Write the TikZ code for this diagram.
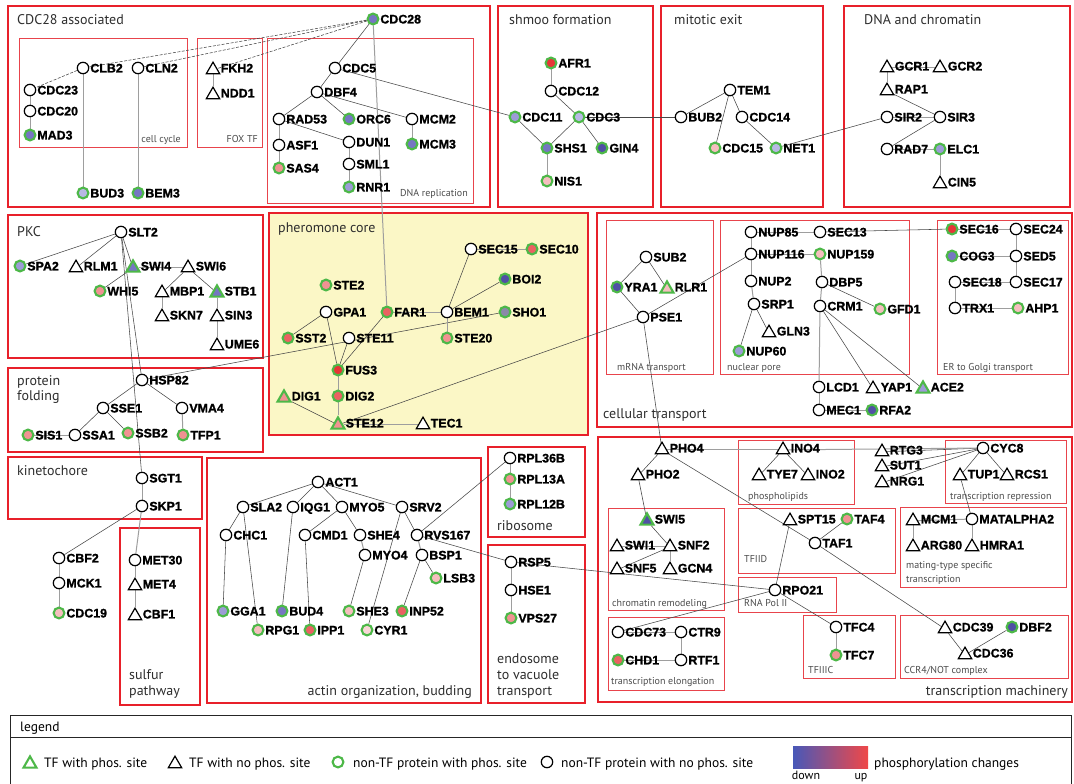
\documentclass[tikz,border=0pt]{standalone}
\usepackage{fontspec}
\setmainfont{PT Sans}
\newfontfamily\labfont{Liberation Sans}[FakeBold=1.2]
\newfontfamily\ttlfont{PT Sans}
\usetikzlibrary{shapes.geometric}
\pgfdeclarelayer{boxes}
\pgfdeclarelayer{links}
\pgfsetlayers{boxes,links,main}

% phosphorylation change colours (blue = down, red = up)
\definecolor{ringg}{HTML}{4DB848}
\definecolor{boxred}{HTML}{E8202A}
\definecolor{subred}{HTML}{E8444C}
\definecolor{phero}{HTML}{FBF7C6}
\definecolor{pa}{HTML}{5050A4}
\definecolor{pb}{HTML}{7676C2}
\definecolor{pc}{HTML}{9C9CD6}
\definecolor{pd}{HTML}{B8B8E4}
\definecolor{gp}{HTML}{8A8AA8}
\definecolor{ra}{HTML}{E63636}
\definecolor{rb}{HTML}{EA6262}
\definecolor{rc}{HTML}{F09292}
\definecolor{rd}{HTML}{F5BEBE}
\definecolor{re}{HTML}{F9D6D6}
\definecolor{ttlgray}{HTML}{2E2E2E}
\definecolor{subgray}{HTML}{4C4C4C}

% circle protein / triangle transcription factor, with its bold name
\newcommand\protc[4]{\node[#4] (#1) at (#2,#3) {};\path (#2,#3) ++(7.2,0) node[plab] (#1-t) {#1};}
\newcommand\prott[4]{\node[#4] (#1) at (#2,#3) {};\path (#2,#3) ++(7.6,0) node[plab] (#1-t) {#1};}

\tikzset{
  pn/.style={circle,draw=black,line width=1.2pt,fill=white,minimum size=11.4pt,inner sep=0pt},
  pp/.style={circle,draw=ringg,line width=2.1pt,fill=#1,minimum size=10.8pt,inner sep=0pt},
  tn/.style={regular polygon,regular polygon sides=3,draw=black,line width=1.2pt,fill=white,
             minimum size=15.5pt,inner sep=0pt,yshift=-1.9pt},
  tp/.style={regular polygon,regular polygon sides=3,draw=ringg,line width=2.1pt,fill=#1,
             minimum size=15pt,inner sep=0pt,yshift=-1.9pt},
  plab/.style={anchor=west,inner sep=0pt,text height=8.9pt,text depth=0pt,
               font=\labfont\bfseries\fontsize{12.4}{12.4}\selectfont},
  ed/.style={draw=black!72,line width=0.55pt},
  eg/.style={draw=black!38,line width=1pt},
  edash/.style={ed,dash pattern=on 3pt off 1.5pt},
  gbox/.style={draw=boxred,line width=2.6pt},
  sbox/.style={draw=subred,line width=1pt},
  ttl/.style={inner sep=0pt,text=ttlgray,font=\ttlfont\fontsize{14}{15}\selectfont},
  sub/.style={inner sep=0pt,text=subgray,font=\ttlfont\fontsize{10}{11}\selectfont},
  legt/.style={inner sep=0pt,text=black,anchor=base west,font=\ttlfont\fontsize{13.5}{14}\selectfont},
}

\begin{document}
\begin{tikzpicture}[x=1pt,y=-1pt]
\useasboundingbox (0,0) rectangle (1074,784);

\begin{pgfonlayer}{boxes}
\fill[white] (0,0) rectangle (1074,784);
% functional groups
\draw[gbox] (8,6) rectangle (490,207);
\draw[gbox] (498,6) rectangle (653,207);
\draw[gbox] (661,6) rectangle (823,207);
\draw[gbox] (844,6) rectangle (1070,207);
\draw[gbox] (8,215) rectangle (263,358);
\draw[gbox] (8,368) rectangle (263,452);
\draw[gbox,fill=phero] (269,213) rectangle (588,435);
\draw[gbox] (597,213) rectangle (1072,427);
\draw[gbox] (8,457) rectangle (202,519);
\draw[gbox] (120,528) rectangle (200,705);
\draw[gbox] (207,458) rectangle (481,703);
\draw[gbox] (488,447) rectangle (585,537);
\draw[gbox] (488,545) rectangle (585,703);
\draw[gbox] (598,437) rectangle (1072,702);
% sub-groups
\draw[sbox] (19,39) rectangle (187,147);
\draw[sbox] (197,39) rectangle (262,147);
\draw[sbox] (267,39) rectangle (473,203);
\draw[sbox] (606,220) rectangle (713,374);
\draw[sbox] (720,220) rectangle (909,374);
\draw[sbox] (937,220) rectangle (1068,374);
\draw[sbox] (738,440) rectangle (854,504);
\draw[sbox] (945,440) rectangle (1066,503);
\draw[sbox] (608,508) rectangle (724,610);
\draw[sbox] (738,508) rectangle (895,573);
\draw[sbox] (900,507) rectangle (1066,587);
\draw[sbox] (738,577) rectangle (836,612);
\draw[sbox] (608,617) rectangle (724,690);
\draw[sbox] (803,615) rectangle (895,678);
\draw[sbox] (900,615) rectangle (1068,678);
% legend frame
\draw[black!85,line width=1pt] (10,715) rectangle (1071,800);
\draw[black!85,line width=1pt] (10,737) -- (1071,737);
\end{pgfonlayer}

% group titles
\node[ttl,anchor=base west] (g1) at (17,25) {CDC28 associated};
\node[ttl,anchor=base west] (g2) at (509,25) {shmoo formation};
\node[ttl,anchor=base west] (g3) at (674,25) {mitotic exit};
\node[ttl,anchor=base west] (g4) at (864,25) {DNA and chromatin};
\node[ttl,anchor=base west] (g5) at (17,236) {PKC};
\node[ttl,anchor=base west] (g6) at (17,385) {protein};
\node[ttl,anchor=base west] (g6b) at (17,400) {folding};
\node[ttl,anchor=base west] (g7) at (278,232) {pheromone core};
\node[ttl,anchor=base west] (g8) at (603,418) {cellular transport};
\node[ttl,anchor=base west] (g9) at (17,475) {kinetochore};
\node[ttl,anchor=base west] (g10) at (129,679) {sulfur};
\node[ttl,anchor=base west] (g10b) at (129,695) {pathway};
\node[ttl,anchor=base east] (g11) at (472,695) {actin organization, budding};
\node[ttl,anchor=base west] (g12) at (497,530) {ribosome};
\node[ttl,anchor=base west] (g13) at (497,663) {endosome};
\node[ttl,anchor=base west] (g13b) at (497,679) {to vacuole};
\node[ttl,anchor=base west] (g13c) at (497,695) {transport};
\node[ttl,anchor=base east] (g14) at (1068,695) {transcription machinery};

% sub-group titles
\node[sub,anchor=base east] (s1) at (181,142) {cell cycle};
\node[sub,anchor=base east] (s2) at (258,142) {FOX TF};
\node[sub,anchor=base east] (s3) at (468,196) {DNA replication};
\node[sub,anchor=base west] (s4) at (617,370) {mRNA transport};
\node[sub,anchor=base west] (s5) at (727,370) {nuclear pore};
\node[sub,anchor=base west] (s6) at (943,370) {ER to Golgi transport};
\node[sub,anchor=base west] (s7) at (748,499) {phospholipids};
\node[sub,anchor=base west] (s8) at (950,499) {transcription repression};
\node[sub,anchor=base west] (s9) at (612,606) {chromatin remodeling};
\node[sub,anchor=base west] (s10) at (744,562) {TFIID};
\node[sub,anchor=base west] (s11) at (906,568) {mating-type specific};
\node[sub,anchor=base west] (s11b) at (906,582) {transcription};
\node[sub,anchor=base west] (s12) at (744,606) {RNA Pol II};
\node[sub,anchor=base west] (s13) at (611,684) {transcription elongation};
\node[sub,anchor=base west] (s14) at (808,673) {TFIIIC};
\node[sub,anchor=base west] (s15) at (904,673) {CCR4/NOT complex};

% ---- CDC28 associated
\protc{CDC28}{373}{19}{pp=pb}
\protc{CLB2}{83}{68}{pn}
\protc{CLN2}{138}{68}{pn}
\protc{CDC23}{30}{90}{pn}
\protc{CDC20}{30}{111}{pn}
\protc{MAD3}{30}{135}{pp=pb}
\prott{FKH2}{213}{68}{tn}
\prott{NDD1}{213}{93}{tn}
\protc{BUD3}{83}{193}{pp=pd}
\protc{BEM3}{138}{193}{pp=pb}
\protc{CDC5}{335}{68}{pn}
\protc{DBF4}{317}{92}{pn}
\protc{RAD53}{279}{119}{pn}
\protc{ORC6}{349}{119}{pp=pb}
\protc{MCM2}{412}{119}{pn}
\protc{ASF1}{279}{145}{pn}
\protc{SAS4}{279}{168}{pp=rc}
\protc{DUN1}{349}{142}{pn}
\protc{SML1}{349}{164}{pn}
\protc{RNR1}{349}{187}{pp=pc}
\protc{MCM3}{412}{144}{pp=pb}
% ---- shmoo formation
\protc{AFR1}{551}{63}{pp=ra}
\protc{CDC12}{551}{91}{pn}
\protc{CDC11}{515}{117}{pp=pc}
\protc{CDC3}{579}{117}{pp=pd}
\protc{SHS1}{547}{148}{pp=pb}
\protc{GIN4}{602}{148}{pp=pa}
\protc{NIS1}{547}{181}{pp=rd}
% ---- mitotic exit
\protc{TEM1}{730}{90}{pn}
\protc{BUB2}{681}{117}{pn}
\protc{CDC14}{742}{117}{pn}
\protc{CDC15}{715}{148}{pp=rd}
\protc{NET1}{776}{148}{pp=pd}
% ---- DNA and chromatin
\prott{GCR1}{887}{66}{tn}
\prott{GCR2}{940}{66}{tn}
\prott{RAP1}{887}{89}{tn}
\protc{SIR2}{887}{117}{pn}
\protc{SIR3}{940}{117}{pn}
\protc{RAD7}{887}{149}{pn}
\protc{ELC1}{940}{149}{pp=pc}
\prott{CIN5}{940}{182}{tn}
% ---- PKC
\protc{SLT2}{121}{232}{pn}
\protc{SPA2}{20}{266}{pp=pc}
\prott{RLM1}{76}{266}{tn}
\prott{SWI4}{133}{266}{tp=pb}
\prott{SWI6}{188}{266}{tn}
\protc{WHI5}{100}{291}{pp=rc}
\prott{MBP1}{162}{291}{tn}
\prott{STB1}{217}{291}{tp=pb}
\prott{SKN7}{162}{315}{tn}
\prott{SIN3}{217}{315}{tn}
\prott{UME6}{217}{344}{tn}
% ---- protein folding
\protc{HSP82}{142}{380}{pn}
\protc{SSE1}{103}{408}{pn}
\protc{VMA4}{182}{408}{pn}
\protc{SIS1}{28}{435}{pp=rc}
\protc{SSA1}{75}{435}{pn}
\protc{SSB2}{128}{433}{pp=rc}
\protc{TFP1}{183}{435}{pp=rc}
% ---- pheromone core
\protc{STE2}{326}{285}{pp=rc}
\protc{GPA1}{326}{312}{pn}
\protc{FAR1}{387}{312}{pp=rb}
\protc{BEM1}{447}{312}{pn}
\protc{SHO1}{505}{312}{pp=gp}
\protc{BOI2}{505}{279}{pp=pa}
\protc{SEC15}{471}{249}{pn}
\protc{SEC10}{532}{249}{pp=rb}
\protc{SST2}{288}{338}{pp=rb}
\protc{STE11}{349}{338}{pn}
\protc{STE20}{447}{338}{pp=rc}
\protc{FUS3}{338}{370}{pp=ra}
\protc{DIG2}{338}{396}{pp=rb}
\prott{DIG1}{284}{396}{tp=rc}
\prott{STE12}{338}{423}{tp=rc}
\prott{TEC1}{423}{423}{tn}
% ---- cellular transport
\protc{SUB2}{646}{257}{pn}
\protc{YRA1}{617}{287}{pp=pa}
\prott{RLR1}{667}{287}{tp=rd}
\protc{PSE1}{643}{317}{pn}
\protc{NUP85}{751}{232}{pn}
\protc{SEC13}{820}{232}{pn}
\protc{NUP116}{751}{254}{pn}
\protc{NUP159}{820}{254}{pp=rd}
\protc{NUP2}{751}{281}{pn}
\protc{SRP1}{754}{304}{pn}
\prott{GLN3}{769}{331}{tn}
\protc{NUP60}{739}{351}{pp=pc}
\protc{DBP5}{822}{282}{pn}
\protc{CRM1}{820}{306}{pn}
\protc{GFD1}{880}{309}{pp=rd}
\protc{LCD1}{819}{387}{pn}
\protc{MEC1}{819}{410}{pn}
\protc{RFA2}{872}{410}{pp=pa}
\prott{YAP1}{873}{387}{tn}
\prott{ACE2}{923}{387}{tp=pc}
\protc{SEC16}{952}{229}{pp=ra}
\protc{SEC24}{1016}{229}{pn}
\protc{COG3}{952}{256}{pp=pb}
\protc{SED5}{1016}{256}{pn}
\protc{SEC18}{955}{282}{pn}
\protc{SEC17}{1016}{282}{pn}
\protc{TRX1}{955}{308}{pn}
\protc{AHP1}{1018}{308}{pp=rd}
% ---- kinetochore, sulfur pathway
\protc{SGT1}{142}{478}{pn}
\protc{SKP1}{142}{506}{pn}
\protc{CBF2}{59}{558}{pn}
\protc{MCK1}{59}{583}{pn}
\protc{CDC19}{59}{613}{pp=rd}
\protc{MET30}{135}{560}{pn}
\prott{MET4}{135}{584}{tn}
\prott{CBF1}{135}{614}{tn}
% ---- actin organization, budding
\protc{ACT1}{318}{482}{pn}
\protc{SLA2}{243}{507}{pn}
\protc{IQG1}{293}{507}{pn}
\protc{MYO5}{342}{507}{pn}
\protc{SRV2}{402}{507}{pn}
\protc{CHC1}{226}{535}{pn}
\protc{CMD1}{305}{535}{pn}
\protc{SHE4}{360}{535}{pn}
\protc{RVS167}{417}{535}{pn}
\protc{MYO4}{365}{555}{pn}
\protc{BSP1}{422}{555}{pn}
\protc{LSB3}{436}{578}{pp=rd}
\protc{GGA1}{223}{611}{pp=pc}
\protc{BUD4}{282}{611}{pp=pb}
\protc{SHE3}{349}{611}{pp=rd}
\protc{INP52}{402}{611}{pp=rb}
\protc{RPG1}{258}{630}{pp=rd}
\protc{IPP1}{310}{630}{pp=rb}
\protc{CYR1}{367}{630}{pp=re}
% ---- ribosome, endosome
\protc{RPL36B}{510}{458}{pn}
\protc{RPL13A}{510}{479}{pp=rc}
\protc{RPL12B}{510}{504}{pp=pc}
\protc{RSP5}{511}{562}{pn}
\protc{HSE1}{511}{590}{pn}
\protc{VPS27}{511}{618}{pp=rc}
% ---- transcription machinery
\prott{PHO4}{662}{448}{tn}
\prott{PHO2}{638}{474}{tn}
\prott{INO4}{783}{448}{tn}
\prott{TYE7}{759}{474}{tn}
\prott{INO2}{808}{474}{tn}
\prott{RTG3}{882}{450}{tn}
\prott{SUT1}{882}{465}{tn}
\prott{NRG1}{882}{481}{tn}
\protc{CYC8}{983}{448}{pn}
\prott{TUP1}{960}{474}{tn}
\prott{RCS1}{1007}{474}{tn}
\prott{SWI5}{647}{519}{tp=pa}
\prott{SWI1}{617}{545}{tn}
\prott{SNF2}{670}{545}{tn}
\prott{SNF5}{617}{568}{tn}
\prott{GCN4}{670}{568}{tn}
\prott{SPT15}{790}{519}{tn}
\protc{TAF4}{847}{519}{pp=rc}
\protc{TAF1}{815}{543}{pn}
\prott{MCM1}{913}{519}{tn}
\protc{MATALPHA2}{972}{519}{pn}
\prott{ARG80}{913}{545}{tn}
\prott{HMRA1}{972}{545}{tn}
\protc{RPO21}{775}{590}{pn}
\protc{CDC73}{618}{632}{pn}
\protc{CTR9}{681}{632}{pn}
\protc{CHD1}{618}{660}{pp=rb}
\protc{RTF1}{681}{660}{pn}
\protc{TFC4}{836}{627}{pn}
\protc{TFC7}{836}{655}{pp=rc}
\prott{CDC39}{945}{627}{tn}
\protc{DBF2}{1012}{627}{pp=pa}
\prott{CDC36}{965}{653}{tn}

% ---- interactions
\begin{pgfonlayer}{links}
\foreach \a/\b in {CDC28/CLB2,CDC28/CLN2,CDC28/FKH2,CLB2/CDC23}
  \draw[edash] (\a) -- (\b);
\foreach \a/\b in {
  CDC28/CDC5,CDC5/DBF4,CDC5/CDC11,DBF4/RAD53,DBF4/ORC6,DBF4/MCM2,RAD53/DUN1,
  CDC12/CDC3,CDC11/SHS1,CDC3/SHS1,CDC3/GIN4,CDC3/BUB2,
  TEM1/BUB2,TEM1/CDC15,TEM1/CDC14,CDC14/NET1,NET1/SIR2,
  RAP1/SIR3,SIR3/RAD7,
  SLT2/SPA2,SLT2/RLM1,SLT2/SWI4,SWI4/WHI5,SWI6/MBP1,SWI6/STB1,SLT2/HSP82,SLT2/SGT1,
  HSP82/SSE1,HSP82/VMA4,SSE1/SSA1,SSE1/SSB2,HSP82/SHO1,
  SKP1/CBF2,
  GPA1/SST2,GPA1/FUS3,STE11/FUS3,FAR1/FUS3,BEM1/SEC15,BEM1/BOI2,DIG1/STE12,STE12/PSE1,
  SUB2/YRA1,SUB2/RLR1,YRA1/PSE1,PSE1/NUP116,PSE1/PHO4,SRP1/GLN3,SRP1/NUP60,
  DBP5/GFD1,CRM1/YAP1,CRM1/ACE2,SEC13/SEC16,
  ACT1/SLA2,ACT1/IQG1,ACT1/MYO5,ACT1/SRV2,SLA2/CHC1,SLA2/RPG1,CHC1/GGA1,IQG1/BUD4,
  MYO5/CMD1,MYO5/SHE4,CMD1/IPP1,MYO4/SHE3,SRV2/RVS167,SRV2/CYR1,BSP1/LSB3,BSP1/INP52,
  RVS167/RPL36B,RVS167/RSP5,RSP5/RPO21,
  PHO4/PHO2,RTG3/CYC8,SUT1/CYC8,NRG1/CYC8,INO4/TYE7,INO4/INO2,CYC8/TUP1,CYC8/RCS1,
  TUP1/MATALPHA2,PHO4/TAF1,TAF1/CDC39,PHO2/SWI5,SWI5/SNF2,SNF2/SNF5,TAF4/TAF1,
  SPT15/RPO21,RPO21/CDC73,RPO21/TFC4,CDC39/CDC36,DBF2/CDC36}
  \draw[ed] (\a) -- (\b);
\foreach \a/\b in {
  CDC28/FAR1,RAD53/ASF1,ASF1/SAS4,DUN1/SML1,SML1/RNR1,MCM2/MCM3,
  CDC23/CDC20,CDC20/MAD3,FKH2/NDD1,CLB2/BUD3,CLN2/BEM3,
  AFR1/CDC12,SHS1/NIS1,
  GCR1/GCR2,GCR1/RAP1,SIR2/SIR3,RAD7/ELC1,ELC1/CIN5,
  SWI4/SWI6,MBP1/SKN7,STB1/SIN3,SIN3/UME6,SIS1/SSA1,VMA4/TFP1,
  SGT1/SKP1,SKP1/MET30,CBF2/MCK1,MCK1/CDC19,MET30/MET4,MET4/CBF1,
  FAR1/BEM1,BEM1/STE20,SEC15/SEC10,FUS3/DIG2,DIG2/STE12,STE12/TEC1,
  NUP85/SEC13,NUP85/NUP116,NUP116/NUP159,NUP116/NUP2,NUP2/SRP1,NUP159/DBP5,
  DBP5/CRM1,CRM1/LCD1,LCD1/MEC1,MEC1/RFA2,
  SEC16/SEC24,SEC24/SED5,COG3/SED5,SED5/SEC17,SEC18/SEC17,SEC18/TRX1,TRX1/AHP1,
  SHE4/MYO4,RVS167/BSP1,
  RPL36B/RPL13A,RPL13A/RPL12B,RSP5/HSE1,HSE1/VPS27,
  PHO4/INO4,INO4/CYC8,SWI1/SNF2,SNF2/GCN4,MCM1/MATALPHA2,MCM1/ARG80,MATALPHA2/HMRA1,
  CDC73/CTR9,CTR9/RTF1,CHD1/RTF1,TFC4/TFC7}
  \draw[eg] (\a) -- (\b);
\end{pgfonlayer}

% ---- legend
\node[legt] (lg) at (20,731) {legend};
\node[tp=white] (lg-a) at (30,762) {};
\node[legt] (lg-at) at (44,767) {TF with phos. site};
\node[tn] (lg-b) at (175,762) {};
\node[legt] (lg-bt) at (189,767) {TF with no phos. site};
\node[pp=white] (lg-c) at (338,762) {};
\node[legt] (lg-ct) at (353,767) {non-TF protein with phos. site};
\node[pn] (lg-d) at (547,762) {};
\node[legt] (lg-dt) at (561,767) {non-TF protein with no phos. site};
\shade[left color={rgb,255:red,72;green,88;blue,184},middle color={rgb,255:red,214;green,84;blue,150},
       right color={rgb,255:red,240;green,72;blue,72}] (793,746) rectangle (868,768);
\node[legt] (lg-et) at (874,767) {phosphorylation changes};
\node[legt,anchor=base,font=\ttlfont\fontsize{12}{12}\selectfont] (lg-dn) at (806,779) {down};
\node[legt,anchor=base,font=\ttlfont\fontsize{12}{12}\selectfont] (lg-up) at (861,779) {up};
\end{tikzpicture}
\end{document}
